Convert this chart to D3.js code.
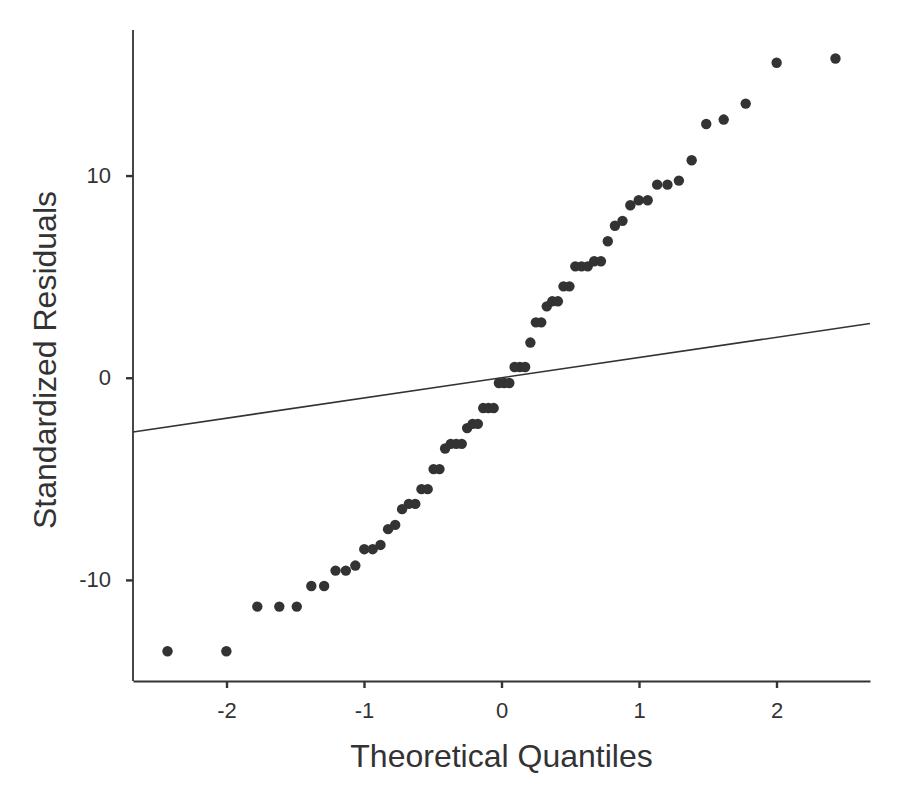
<!DOCTYPE html>
<html>
<head>
<meta charset="utf-8">
<script src="https://cdn.jsdelivr.net/npm/d3@7"></script>
<style>
  body { margin: 0; background: #fff; }
  svg text { font-family: "Liberation Sans", Arial, sans-serif; fill: #333; }
</style>
</head>
<body>
<svg id="chart" width="900" height="800"></svg>
<script>
// theoretical quantiles (x)
const quantiles = [
  -2.429, -2.001, -1.776, -1.616, -1.489, -1.383, -1.290, -1.207, -1.132, -1.063,
  -0.998, -0.937, -0.880, -0.825, -0.773, -0.723, -0.674, -0.627, -0.582, -0.537,
  -0.494, -0.451, -0.410, -0.369, -0.329, -0.289, -0.250, -0.210, -0.172, -0.133,
  -0.095, -0.057, -0.019, 0.019, 0.057, 0.095, 0.133, 0.172, 0.210, 0.250,
  0.289, 0.329, 0.369, 0.410, 0.451, 0.494, 0.537, 0.582, 0.627, 0.674,
  0.723, 0.773, 0.825, 0.880, 0.937, 0.998, 1.063, 1.132, 1.207, 1.290,
  1.383, 1.489, 1.616, 1.776, 2.001, 2.429
];

// standardized residuals (y)
const residuals = [
  -13.53, -13.53, -11.32, -11.32, -11.32, -10.30, -10.30, -9.54, -9.54, -9.29,
  -8.48, -8.48, -8.27, -7.49, -7.28, -6.50, -6.24, -6.24, -5.51, -5.51,
  -4.52, -4.52, -3.50, -3.27, -3.27, -3.27, -2.49, -2.28, -2.28, -1.50,
  -1.50, -1.50, -0.26, -0.26, -0.26, 0.53, 0.53, 0.53, 1.74, 2.74,
  2.74, 3.53, 3.78, 3.78, 4.52, 4.52, 5.51, 5.51, 5.51, 5.76,
  5.76, 6.75, 7.52, 7.76, 8.53, 8.78, 8.78, 9.55, 9.55, 9.75,
  10.76, 12.55, 12.77, 13.56, 15.58, 15.79
];

const xTicks = [-2, -1, 0, 1, 2];
const yTicks = [-10, 0, 10];

const xDomain = [-2.68, 2.68];
const yDomain = [-15, 17.2];

const svg = d3.select('#chart');
const padLeft = 133;
const padRight = 870;
const padTop = 30;
const padBottom = 681;
const ink = '#333';

const x = d3.scaleLinear().domain(xDomain).range([padLeft, padRight]);
const y = d3.scaleLinear().domain(yDomain).range([padBottom, padTop]);

// reference line y = x
svg.append('line')
  .attr('x1', x(xDomain[0]))
  .attr('y1', y(xDomain[0]))
  .attr('x2', x(xDomain[1]))
  .attr('y2', y(xDomain[1]))
  .attr('stroke', ink)
  .attr('stroke-width', 1.6);

svg.append('g')
  .selectAll('circle')
  .data(quantiles.map((q, i) => [q, residuals[i]]))
  .join('circle')
  .attr('cx', d => x(d[0]))
  .attr('cy', d => y(d[1]))
  .attr('r', 5.2)
  .attr('fill', ink);

const xAxis = svg.append('g')
  .attr('transform', `translate(0,${padBottom})`)
  .call(d3.axisBottom(x).tickValues(xTicks).tickFormat(d => String(d)).tickSize(7).tickPadding(14).tickSizeOuter(0));

const yAxis = svg.append('g')
  .attr('transform', `translate(${padLeft},0)`)
  .call(d3.axisLeft(y).tickValues(yTicks).tickFormat(d => String(d)).tickSize(7).tickPadding(15).tickSizeOuter(0));

[xAxis, yAxis].forEach(g => {
  g.attr('font-size', null);
  g.select('.domain').attr('stroke', ink).attr('stroke-width', 1.8);
  g.selectAll('.tick line').attr('stroke', ink).attr('stroke-width', 2.4);
  g.selectAll('.tick text')
    .style('font-size', '22px')
    .style('fill', ink)
    .style('font-family', '"Liberation Sans", Arial, sans-serif');
});

// y axis line reaches the top of the panel
yAxis.select('.domain').attr('d', `M0,${padTop}V${padBottom}`);

svg.append('text')
  .attr('x', (padLeft + padRight) / 2)
  .attr('y', 767)
  .attr('text-anchor', 'middle')
  .style('font-size', '32px')
  .text('Theoretical Quantiles');

svg.append('text')
  .attr('transform', `translate(56,360) rotate(-90)`)
  .attr('text-anchor', 'middle')
  .style('font-size', '32px')
  .text('Standardized Residuals');
</script>
</body>
</html>
